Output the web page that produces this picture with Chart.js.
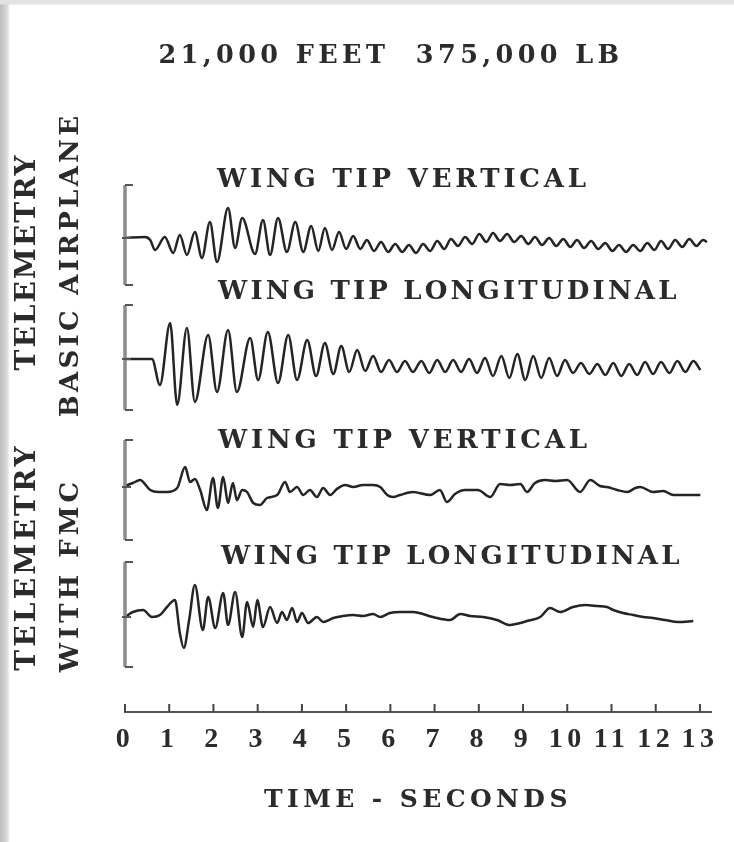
<!DOCTYPE html>
<html>
<head>
<meta charset="utf-8">
<title>Wing tip telemetry - 21,000 feet</title>
<script src="https://cdn.jsdelivr.net/npm/chart.js@4.4.1/dist/chart.umd.min.js"></script>
<style>
  html, body { margin: 0; padding: 0; }
  body {
    width: 734px;
    height: 842px;
    overflow: hidden;
    background:
      linear-gradient(to bottom, #e2e2e2 0, #e2e2e2 4px, rgba(255, 255, 255, 0) 5px),
      linear-gradient(to right, #bdbdbd 0, #d9d9d9 7px, #ffffff 10px);
  }
  #wrap { position: relative; width: 734px; height: 842px; }
</style>
</head>
<body>
<div id="wrap"><canvas id="telemetryChart"></canvas></div>
<script>
'use strict';

// #region ***  Data                                     ***********
const tickValues = [0, 1, 2, 3, 4, 5, 6, 7, 8, 9, 10, 11, 12, 13];
const tickLabels = ['0', '1', '2', '3', '4', '5', '6', '7', '8', '9', '10', '11', '12', '13'];

const panelLabels = ['WING TIP VERTICAL', 'WING TIP LONGITUDINAL', 'WING TIP VERTICAL', 'WING TIP LONGITUDINAL'];
const sideLabels = ['TELEMETRY', 'BASIC AIRPLANE', 'TELEMETRY', 'WITH FMC'];

// basic airplane, wing tip vertical (time s / deflection)
const vertBasicTime = [0, 0.45, 0.57, 0.68, 0.90, 1.09, 1.24, 1.40, 1.58, 1.74,
  1.92, 2.08, 2.33, 2.49, 2.65, 2.94, 3.12, 3.28, 3.46, 3.66,
  3.85, 4.03, 4.21, 4.37, 4.52, 4.68, 4.84, 5.00, 5.16, 5.32,
  5.47, 5.63, 5.79, 5.95, 6.11, 6.27, 6.42, 6.58, 6.74, 6.90,
  7.06, 7.22, 7.37, 7.53, 7.69, 7.85, 8.01, 8.17, 8.32, 8.48,
  8.64, 8.80, 8.96, 9.12, 9.27, 9.43, 9.59, 9.75, 9.91, 10.07,
  10.22, 10.38, 10.54, 10.70, 10.86, 11.02, 11.17, 11.33, 11.49, 11.65,
  11.81, 11.97, 12.12, 12.28, 12.44, 12.60, 12.76, 12.92, 13.07, 13.16];
const vertBasicDefl = [0, 1, -2, -12, 1, -15, 3, -17, 6, -20,
  16, -24, 30, -10, 20, -16, 18, -17, 20, -14,
  16, -14, 12, -13, 10, -12, 6, -11, 2, -11,
  -2, -13, -4, -14, -6, -14, -7, -15, -6, -13,
  -3, -11, -1, -8, 1, -6, 4, -4, 5, -3,
  4, -4, 2, -6, 1, -7, 0, -8, -1, -9,
  -2, -10, -3, -11, -5, -13, -7, -14, -7, -13,
  -5, -12, -3, -11, -2, -9, -1, -8, -2, -4];

// basic airplane, wing tip longitudinal
const longBasicTime = [0, 0.61, 0.79, 1.02, 1.18, 1.40, 1.58, 1.88, 2.08, 2.33,
  2.53, 2.83, 3.01, 3.23, 3.46, 3.69, 3.89, 4.12, 4.32, 4.52,
  4.71, 4.89, 5.07, 5.25, 5.43, 5.61, 5.79, 5.97, 6.15, 6.33,
  6.51, 6.70, 6.88, 7.06, 7.24, 7.42, 7.60, 7.78, 7.96, 8.14,
  8.32, 8.51, 8.69, 8.87, 9.05, 9.23, 9.41, 9.59, 9.77, 9.95,
  10.13, 10.31, 10.50, 10.68, 10.86, 11.04, 11.22, 11.40, 11.58, 11.76,
  11.94, 12.12, 12.31, 12.49, 12.67, 12.85, 13.01];
const longBasicDefl = [0, 0, -26, 36, -46, 31, -43, 24, -33, 29,
  -33, 21, -21, 27, -24, 24, -21, 19, -17, 16,
  -15, 13, -13, 9, -12, 3, -13, -1, -13, -2,
  -13, -2, -14, -1, -13, -1, -13, 0, -14, 1,
  -17, 3, -19, 5, -21, 3, -19, 1, -17, -1,
  -14, -4, -15, -5, -16, -4, -17, -5, -16, -3,
  -15, -3, -14, -2, -13, -2, -11];

// with FMC, wing tip vertical
const vertFmcTime = [0, 0.18, 0.34, 0.57, 0.75, 0.95, 1.18, 1.36, 1.47, 1.58,
  1.70, 1.85, 1.99, 2.10, 2.22, 2.33, 2.44, 2.53, 2.65, 2.76,
  2.90, 3.05, 3.21, 3.44, 3.62, 3.73, 3.89, 4.03, 4.18, 4.34,
  4.48, 4.64, 4.79, 4.98, 5.16, 5.38, 5.61, 5.77, 5.93, 6.06,
  6.22, 6.51, 6.90, 7.12, 7.28, 7.46, 7.69, 7.98, 8.26, 8.48,
  8.71, 8.94, 9.09, 9.27, 9.50, 9.73, 10.00, 10.29, 10.52, 10.74,
  10.90, 11.13, 11.36, 11.54, 11.65, 11.94, 12.17, 12.40, 12.67, 13.01];
const vertFmcDefl = [1, 4, 7, -3, -5, -5, -1, 20, 5, 8,
  -3, -23, 9, -21, 10, -16, 4, -13, -3, -5,
  -16, -18, -11, -8, 5, -5, 0, -8, -3, -10,
  -1, -8, -2, 2, 0, 2, 2, 0, -8, -10,
  -8, -5, -8, -3, -15, -7, -3, -3, -10, 3,
  2, 3, -5, 4, 7, 6, 7, -5, 7, 1,
  0, -3, -5, -1, 0, -5, -4, -8, -8, -8];

// with FMC, wing tip longitudinal
const longFmcTime = [0, 0.18, 0.41, 0.61, 0.79, 0.95, 1.13, 1.24, 1.33, 1.45,
  1.58, 1.76, 1.88, 2.04, 2.22, 2.33, 2.49, 2.65, 2.76, 2.90,
  2.99, 3.12, 3.28, 3.44, 3.55, 3.66, 3.78, 3.89, 4.00, 4.14,
  4.34, 4.48, 4.71, 4.93, 5.16, 5.38, 5.61, 5.77, 5.99, 6.22,
  6.51, 6.96, 7.35, 7.58, 7.80, 8.10, 8.41, 8.71, 8.94, 9.09,
  9.39, 9.61, 9.84, 10.13, 10.41, 10.68, 10.90, 11.04, 11.26, 11.49,
  11.72, 11.94, 12.21, 12.51, 12.85];
const longFmcDefl = [0, 5, 7, 0, 2, 10, 17, -16, -31, -3,
  32, -13, 20, -11, 24, -8, 25, -20, 15, -10,
  17, -10, 10, -6, 5, -3, 9, -5, 4, -6,
  0, -5, -1, 1, 2, 1, 3, 0, 4, 5,
  5, 0, -3, 3, 1, 0, -3, -8, -6, -4,
  0, 9, 5, 10, 12, 11, 10, 7, 4, 2,
  0, -1, -3, -5, -4];
// #endregion

// #region ***  Layout / style                           ***********
const inkColor = '#2b2b2b';
const traceColor = '#242424';
// each trace gets its own band of the plot; 1 unit = 1 px
const bandRanges = [[-474, 88], [-353, 209], [-225, 337], [-95, 467]];
// calibration bracket extent per band, same units
const bracketSpan = [[53, -47], [54, -51], [47, -53], [55, -50]];
const panelLabelPos = [[217, 180], [218, 292], [218, 441], [221, 557]];
const panelLabelSpacing = [3.8, 3.2, 3.8, 3.2];
const sideLabelStyle = [
  { x: 28, y: 262, size: 28, spacing: 2 },
  { x: 71, y: 265, size: 26, spacing: 3.3 },
  { x: 28, y: 557, size: 28, spacing: 3.2 },
  { x: 71, y: 575, size: 26, spacing: 4 }
];
// #endregion

// #region ***  Plugins                                  ***********
const letterSpacingPlugin = {
  id: 'letterSpacing',
  beforeDraw: function (chart) {
    chart.ctx.letterSpacing = '4.4px';
  },
  afterDatasetsDraw: function (chart) {
    chart.ctx.letterSpacing = '0px';
  }
};

const figureDecorPlugin = {
  id: 'figureDecor',
  afterDraw: function (chart) {
    const ctx = chart.ctx;
    const xScale = chart.scales.x;
    const bottom = chart.chartArea.bottom;
    ctx.save();

    // tick marks standing up from the time axis
    ctx.strokeStyle = '#444';
    ctx.lineWidth = 2;
    ctx.beginPath();
    tickValues.forEach(function (v) {
      const px = xScale.getPixelForValue(v);
      ctx.moveTo(px, bottom);
      ctx.lineTo(px, bottom - 8);
    });
    ctx.stroke();

    // calibration brackets
    const bx = xScale.getPixelForValue(0);
    bracketSpan.forEach(function (span, k) {
      const s = chart.scales['y' + (k + 1)];
      const top = s.getPixelForValue(span[0]);
      const bot = s.getPixelForValue(span[1]);
      const mid = s.getPixelForValue(0);
      ctx.strokeStyle = '#8c8c8c';
      ctx.lineWidth = 3.5;
      ctx.beginPath();
      ctx.moveTo(bx, top);
      ctx.lineTo(bx, bot);
      ctx.stroke();
      ctx.strokeStyle = '#555';
      ctx.lineWidth = 2;
      ctx.beginPath();
      ctx.moveTo(bx, top);
      ctx.lineTo(bx + 8, top);
      ctx.moveTo(bx, bot);
      ctx.lineTo(bx + 8, bot);
      ctx.moveTo(bx - 3, mid);
      ctx.lineTo(bx + 6, mid);
      ctx.stroke();
    });

    // panel captions
    ctx.fillStyle = inkColor;
    ctx.font = 'bold 26px "DejaVu Serif"';
    ctx.textAlign = 'left';
    ctx.textBaseline = 'middle';
    panelLabels.forEach(function (text, k) {
      ctx.letterSpacing = panelLabelSpacing[k] + 'px';
      ctx.fillText(text, panelLabelPos[k][0], panelLabelPos[k][1]);
    });

    // rotated group labels on the left
    ctx.textAlign = 'center';
    sideLabels.forEach(function (text, k) {
      const st = sideLabelStyle[k];
      ctx.save();
      ctx.translate(st.x, st.y);
      ctx.rotate(-Math.PI / 2);
      ctx.font = 'bold ' + st.size + 'px "DejaVu Serif"';
      ctx.letterSpacing = st.spacing + 'px';
      ctx.fillText(text, 0, 0);
      ctx.restore();
    });

    ctx.restore();
  }
};
// #endregion

// #region ***  Chart                                    ***********
const toPoints = function (times, values) {
  return times.map(function (t, i) {
    return { x: t, y: values[i] };
  });
};

const makeTrace = function (times, values, axisId) {
  return {
    data: toPoints(times, values),
    yAxisID: axisId,
    borderColor: traceColor,
    borderWidth: 2.5,
    pointRadius: 0,
    fill: false,
    cubicInterpolationMode: 'monotone'
  };
};

const bandAxis = function (k, visible) {
  const axis = {
    type: 'linear',
    position: 'left',
    min: bandRanges[k][0],
    max: bandRanges[k][1],
    display: visible,
    grid: { display: false, drawTicks: false },
    border: { display: false },
    ticks: { display: false }
  };
  if (visible) {
    // reserves the room left of the brackets
    axis.afterFit = function (scale) { scale.width = 54; };
  }
  return axis;
};

const init = function () {
  const ctx = document.getElementById('telemetryChart').getContext('2d');
  new Chart(ctx, {
    type: 'line',
    data: {
      datasets: [
        makeTrace(vertBasicTime, vertBasicDefl, 'y1'),
        makeTrace(longBasicTime, longBasicDefl, 'y2'),
        makeTrace(vertFmcTime, vertFmcDefl, 'y3'),
        makeTrace(longFmcTime, longFmcDefl, 'y4')
      ]
    },
    options: {
      responsive: true,
      maintainAspectRatio: false,
      animation: false,
      layout: { padding: { left: 71, right: 23, top: 0, bottom: 27 } },
      plugins: {
        legend: { display: false },
        tooltip: { enabled: false },
        title: {
          display: true,
          text: '21,000 FEET  375,000 LB',
          color: inkColor,
          fullSize: true,
          font: { family: 'DejaVu Serif', size: 25.5, weight: 'bold', lineHeight: 1.2 },
          padding: { top: 40.7, bottom: 78.7 }
        },
        subtitle: {
          display: true,
          position: 'bottom',
          text: 'TIME - SECONDS',
          color: inkColor,
          fullSize: false,
          font: { family: 'DejaVu Serif', size: 25, weight: 'bold', lineHeight: 1.2 },
          padding: { top: 17, bottom: 0 }
        }
      },
      scales: {
        x: {
          type: 'linear',
          min: 0,
          max: 13.25,
          z: 1,
          grid: { display: false, drawTicks: false },
          border: { display: true, color: '#555', width: 2 },
          afterBuildTicks: function (scale) {
            scale.ticks = tickValues.map(function (v) { return { value: v }; });
          },
          ticks: {
            color: inkColor,
            font: { family: 'Liberation Serif', size: 28, weight: 'bold', lineHeight: 1.2 },
            padding: 11.2,
            maxRotation: 0,
            autoSkip: false,
            callback: function (value) {
              const i = tickValues.indexOf(value);
              return i >= 0 ? tickLabels[i] : '';
            }
          }
        },
        y1: bandAxis(0, true),
        y2: bandAxis(1, false),
        y3: bandAxis(2, false),
        y4: bandAxis(3, false)
      }
    },
    plugins: [letterSpacingPlugin, figureDecorPlugin]
  });
};

document.addEventListener('DOMContentLoaded', init);
// #endregion
</script>
</body>
</html>
